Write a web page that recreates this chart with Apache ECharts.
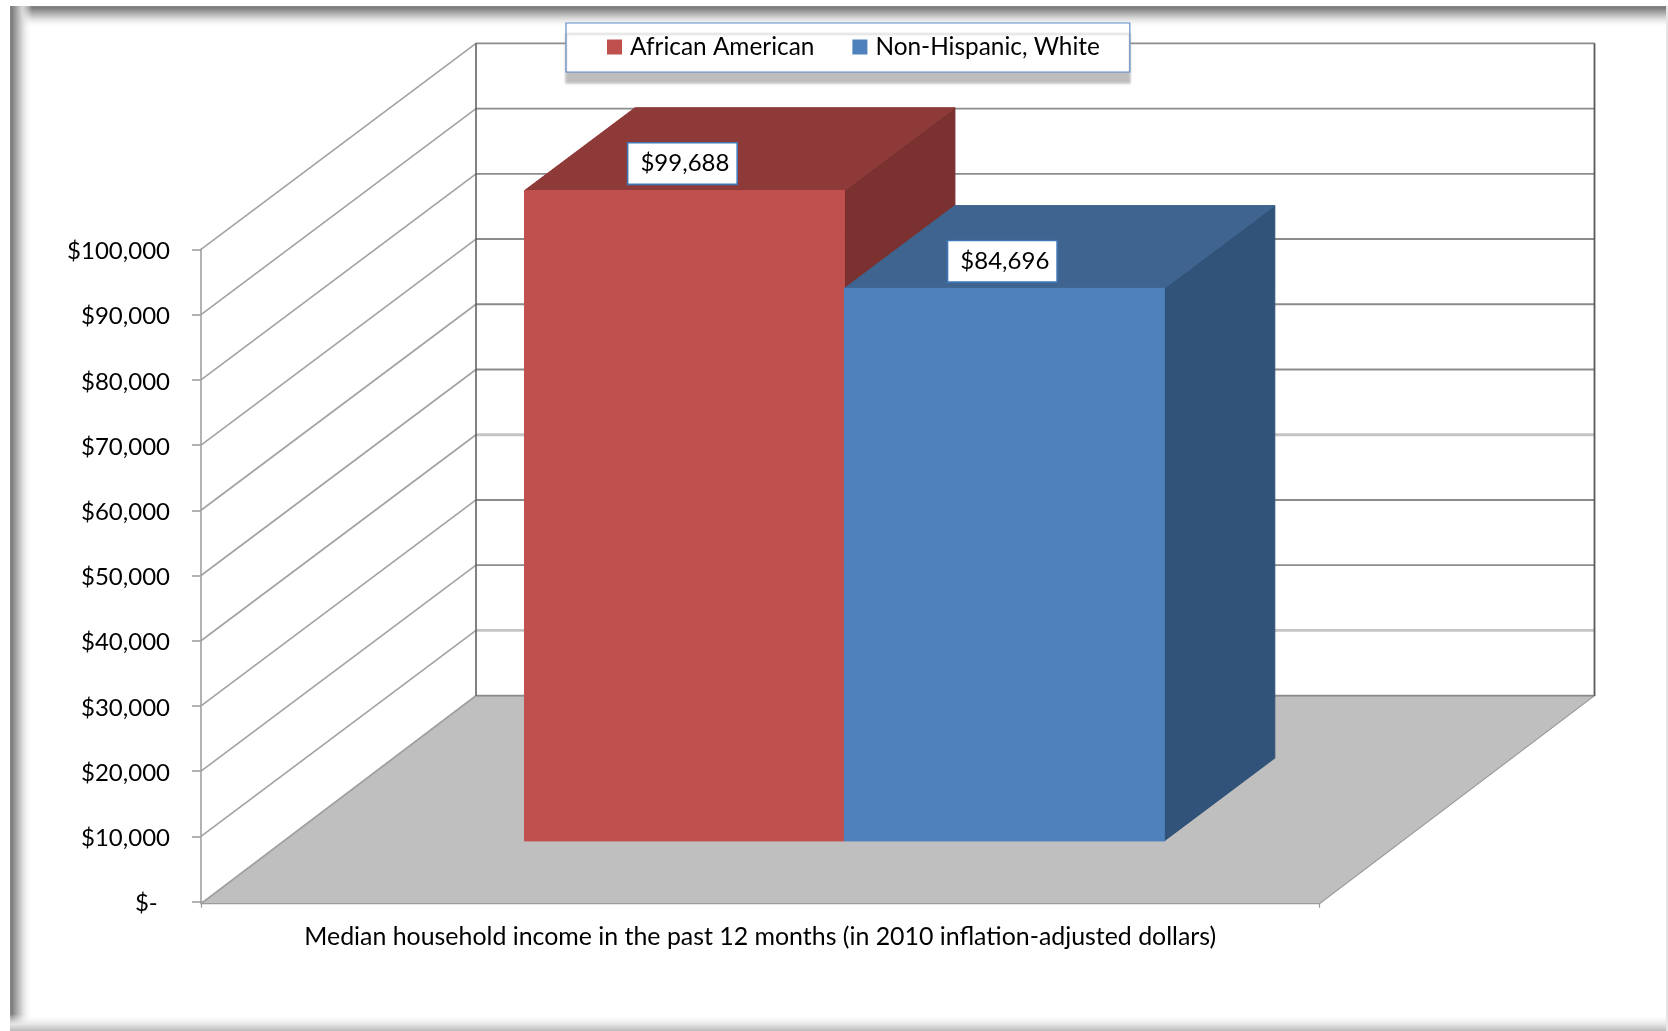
<!DOCTYPE html>
<html>
<head>
<meta charset="utf-8">
<style>html,body{margin:0;padding:0;background:#fff}#c{width:1668px;height:1031px}</style>
<script src="https://cdn.jsdelivr.net/npm/echarts@6/dist/echarts.min.js"></script>
</head>
<body>
<div id="c"></div>
<script>
var categories = ['Median household income in the past 12 months (in 2010 inflation-adjusted dollars)'];
var seriesNames = ['African American', 'Non-Hispanic, White'];
var africanAmerican = [99688];
var nonHispanicWhite = [84696];
var yTicks = [0, 10000, 20000, 30000, 40000, 50000, 60000, 70000, 80000, 90000, 100000];
var yTickLabels = ['$-  ', '$10,000', '$20,000', '$30,000', '$40,000', '$50,000', '$60,000', '$70,000', '$80,000', '$90,000', '$100,000'];

var FONT = 'Lato';
var WALL = [275, -206];              // vector from front floor edge to back wall
var BAR_DEPTH = [0.295, 0.697];      // bar front / back plane as a share of the floor depth
var BAR_SHARE = 0.286;               // bar width as a share of the category band
var BAR_SHIFT = 3;                   // bars sit slightly right of the band centre
var COLORS = [
  {front: '#c0504d', top: '#8e3a39', side: '#7b3130'},
  {front: '#4f81bd', top: '#3e648f', side: '#325379'}
];
// the source is a resampled bitmap: some rules look softer and wider than others
var softRule = {10000: 1, 40000: 1};

function poly(points, fill, stroke, width) {
  return {type: 'polygon', shape: {points: points},
    style: {fill: fill, stroke: stroke || fill, lineWidth: width === undefined ? 1 : width}};
}
function line(x1, y1, x2, y2, stroke, width) {
  return {type: 'line', shape: {x1: x1, y1: y1, x2: x2, y2: y2},
    style: {stroke: stroke, lineWidth: width, fill: null}};
}

function renderFloor(params, api) {
  var cs = params.coordSys;
  var yb = api.coord([0, 0])[1] + 2;
  var yBack = api.coord([0, 0])[1] + WALL[1];
  var x0 = cs.x, x1 = cs.x + cs.width;
  return {type: 'group', children: [
    poly([[x0, yb], [x1, yb], [x1 + WALL[0], yBack], [x0 + WALL[0], yBack]], '#bfbfbf', '#9a9a9a', 1.2)
  ]};
}

function renderRule(params, api) {
  var cs = params.coordSys;
  var v = api.value(0);
  var y = api.coord([0, v])[1];
  var xb0 = cs.x + WALL[0], xb1 = cs.x + cs.width + WALL[0], yb = y + WALL[1];
  var soft = softRule[v];
  var kids = [
    line(cs.x, v === 0 ? y + 2 : y, xb0, yb, '#a2a2a2', 1.6),
    line(xb0, yb, xb1, yb, soft ? '#c4c4c4' : '#8c8c8c', soft ? 2.8 : 1.8)
  ];
  return {type: 'group', children: kids};
}

function renderVerticals(params, api) {
  var cs = params.coordSys;
  var yLo = api.coord([0, 0])[1] + WALL[1];
  var yHi = api.coord([0, 100000])[1] + WALL[1];
  var xb0 = cs.x + WALL[0], xb1 = cs.x + cs.width + WALL[0];
  return {type: 'group', children: [
    line(xb0, yLo, xb0, yHi, '#595959', 1.5),
    line(xb1, yLo, xb1, yHi, '#595959', 1.8)
  ]};
}

function makeBarRenderer(slot) {
  return function (params, api) {
    var c = COLORS[slot];
    var center = api.coord([0, 0])[0] + BAR_SHIFT;
    var band = api.size([1, 0])[0];
    var w = band * BAR_SHARE;
    var left = center + (slot - 1) * w, right = left + w;
    var yBase = api.coord([0, 0])[1];
    var yTop = api.coord([0, api.value(1)])[1];
    var sx0 = WALL[0] * BAR_DEPTH[0], sy0 = WALL[1] * BAR_DEPTH[0];
    var sx1 = WALL[0] * BAR_DEPTH[1], sy1 = WALL[1] * BAR_DEPTH[1];
    var fl = left + sx0, fr = right + sx0, bl = left + sx1, br = right + sx1;
    var fb = yBase + sy0, ft = yTop + sy0, bt = yTop + sy1, bb = yBase + sy1;
    var label = '$' + api.value(1).toLocaleString('en-US');
    return {type: 'group', children: [
      poly([[fr, fb], [br, bb], [br, bt], [fr, ft]], c.side),
      poly([[fl, ft], [fr, ft], [br, bt], [bl, bt]], c.top),
      poly([[fl, fb], [fr, fb], [fr, ft], [fl, ft]], c.front),
      {type: 'text', z2: 20, style: {
        x: (fl + fr) / 2 - 2, y: ft - 27, text: label, align: 'center', verticalAlign: 'middle',
        fontFamily: FONT, fontSize: 24, fill: '#000', backgroundColor: '#fff',
        borderColor: '#3f76b5', borderWidth: 1.6, padding: [12, 7, 4, 12]
      }}
    ]};
  };
}

function fade(x, y, w, h, vertical, stops) {
  return {type: 'rect', silent: true, shape: {x: x, y: y, width: w, height: h},
    style: {fill: new echarts.graphic.LinearGradient(0, 0, vertical ? 0 : 1, vertical ? 1 : 0,
      stops.map(function (s) { return {offset: s[0], color: s[1]}; }))}};
}
var FADE_STOPS = [[0, '#8a8a8a'], [0.08, '#7c7c7c'], [0.3, '#a8a8a8'], [0.55, '#d8d8d8'], [1, 'rgba(255,255,255,0)']];

var chart = echarts.init(document.getElementById('c'), null, {renderer: 'canvas'});
chart.setOption({
  animation: false,
  backgroundColor: '#fff',
  graphic: {elements: [
    fade(10, 6, 1658, 22, true, FADE_STOPS),
    fade(10, 6, 22, 1025, false, FADE_STOPS),
    fade(10, 1014, 1658, 17, true, [[0, 'rgba(255,255,255,0)'], [0.6, '#e6e6e6'], [1, '#bcbcbc']]),
    {type: 'rect', silent: true, shape: {x: 1666, y: 6, width: 2, height: 1025}, style: {fill: '#e6e6e6'}}
  ]},
  legend: {
    left: 566, top: 23, padding: [12, 30, 13, 41], itemGap: 38, itemWidth: 15, itemHeight: 15,
    icon: 'rect', backgroundColor: '#fff', borderColor: '#5f8cc4', borderWidth: 1.2,
    shadowColor: '#bdbdbd', shadowOffsetY: 11, shadowOffsetX: 0, shadowBlur: 2,
    data: seriesNames,
    textStyle: {fontFamily: FONT, fontSize: 24.4, color: '#000', padding: [2, 0, 0, 3]}
  },
  grid: {left: 201, right: 348.5, top: 249.3, bottom: 129.3, containLabel: false},
  xAxis: {
    type: 'category', data: categories, offset: 2,
    axisLine: {lineStyle: {color: '#9a9a9a', width: 1.6}},
    axisTick: {show: true, length: 6, lineStyle: {color: '#9a9a9a', width: 1.2}},
    axisLabel: {color: '#000', fontFamily: FONT, fontSize: 24.9, margin: 21, hideOverlap: false},
    splitLine: {show: false}
  },
  yAxis: {
    type: 'value', min: 0, max: 100000, interval: 10000,
    axisLine: {show: true, lineStyle: {color: '#a0a0a0', width: 1.6}},
    axisTick: {show: true, length: 9, lineStyle: {color: '#a0a0a0', width: 1.6}},
    axisLabel: {
      margin: 31,
      formatter: function (v) { return '{t|' + yTickLabels[yTicks.indexOf(v)] + '}'; },
      rich: {t: {color: '#000', fontFamily: FONT, fontSize: 24, padding: [4, 0, 0, 0]}}
    },
    splitLine: {show: false}
  },
  tooltip: {show: false},
  series: [
    {type: 'custom', name: 'floor', silent: true, z: 1, renderItem: renderFloor, data: [[0]], clip: false, encode: {y: 0}},
    {type: 'custom', name: 'rules', silent: true, z: 1, renderItem: renderRule, data: yTicks.map(function (v) { return [v]; }), clip: false, encode: {y: 0}},
    {type: 'custom', name: 'verticals', silent: true, z: 1, renderItem: renderVerticals, data: [[0]], clip: false, encode: {y: 0}},
    {type: 'custom', name: seriesNames[0], z: 2, clip: false, itemStyle: {color: COLORS[0].front},
      renderItem: makeBarRenderer(0), data: africanAmerican.map(function (v, i) { return [i, v]; }), encode: {x: 0, y: 1}},
    {type: 'custom', name: seriesNames[1], z: 3, clip: false, itemStyle: {color: COLORS[1].front},
      renderItem: makeBarRenderer(1), data: nonHispanicWhite.map(function (v, i) { return [i, v]; }), encode: {x: 0, y: 1}}
  ]
});
</script>
</body>
</html>
